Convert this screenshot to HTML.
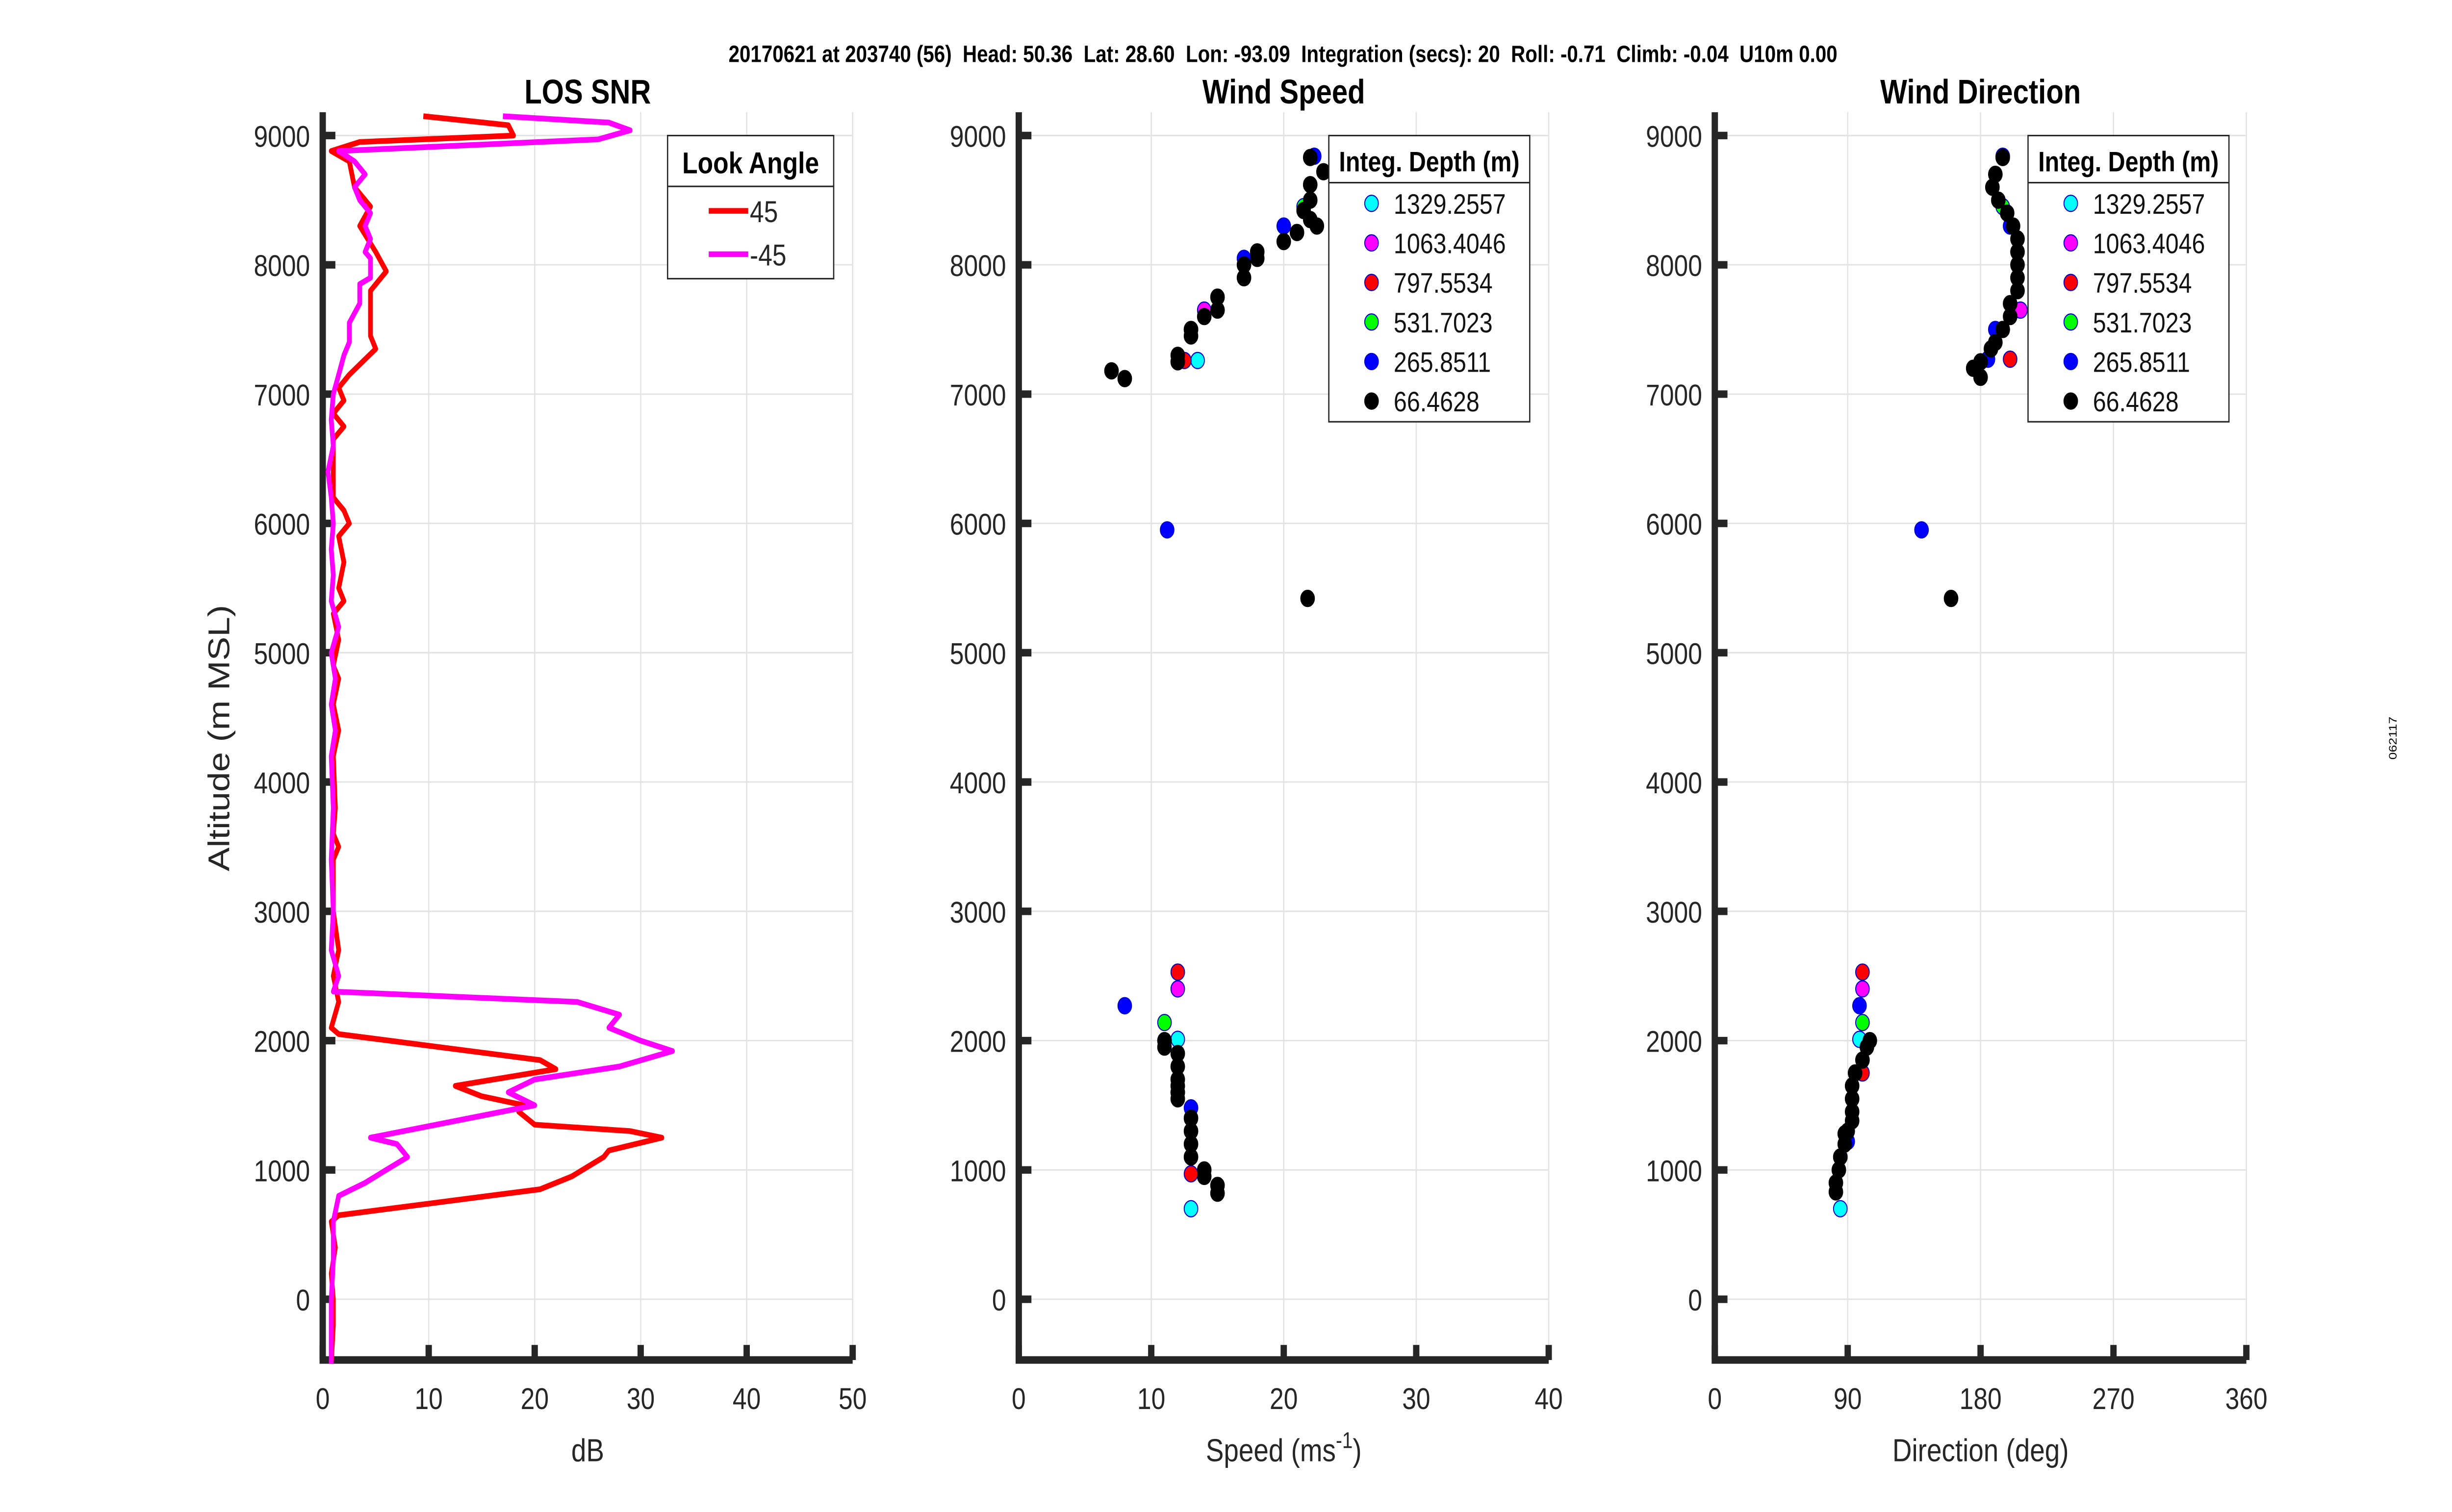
<!DOCTYPE html>
<html><head><meta charset="utf-8"><style>
html,body{margin:0;padding:0;background:#fff;width:100%;height:100%;overflow:hidden;}
svg{display:block;font-family:"Liberation Sans",sans-serif;width:100vw;height:100vh;}
</style></head><body>
<svg id="chart" viewBox="0 0 1550 803" preserveAspectRatio="none" xmlns="http://www.w3.org/2000/svg">
<g id="root">
<text x="811" y="33" text-anchor="middle" font-size="12.5" font-weight="bold" xml:space="preserve">20170621 at 203740 (56)  Head: 50.36  Lat: 28.60  Lon: -93.09  Integration (secs): 20  Roll: -0.71  Climb: -0.04  U10m 0.00</text>
<text transform="translate(1515,392) rotate(-90)" text-anchor="middle" font-size="7">062117</text>
<g id="g"></g>
</g>
</svg>
<script>
// LOS SNR data
const snrRedX=[9.5,17.5,18,3.5,0.8,2.5,3,4.5,3.5,5,6,4.5,4.5,4.5,5,2.5,1.5,2,1,2,1,1,1,2,2.5,1.5,2,1.5,2,1,1.5,1,1.5,1,1.5,1,1.2,1,1.5,1,1,1.5,1,1.5,0.8,1.5,20.5,22,12.5,15,19,18.5,20,29,32,27,26.5,23.5,20.5,1.5,0.8,1.2,0.8,1,1,0.8];
const snrRedY=[9150,9080,9000,8950,8880,8800,8600,8450,8300,8100,7950,7800,7600,7450,7350,7150,7050,6950,6850,6750,6650,6400,6200,6100,6000,5900,5700,5500,5400,5300,5100,4900,4800,4600,4400,4200,3800,3600,3500,3400,3000,2700,2500,2300,2100,2050,1850,1780,1650,1570,1500,1450,1350,1300,1250,1150,1100,950,850,650,600,400,200,0,-200,-500];
const snrMagX=[17,27,29,26,1.5,3,4,3,3.5,4.5,4,4.5,4,4.5,4.5,3.5,3.5,2.5,2.5,2,1.5,1,0.8,1,0.5,0.8,1,0.8,1,0.8,1.5,0.8,1.2,0.8,1.2,0.8,1,0.8,1,0.8,1.5,1,24,28,27,30,33,28,20,17.5,20,4.5,7,8,6,4,1.5,1,1,0.8,0.8];
const snrMagY=[9150,9100,9040,8970,8880,8800,8700,8600,8500,8400,8300,8200,8100,8050,7900,7850,7700,7550,7400,7300,7150,7000,6800,6600,6400,6200,6000,5800,5600,5400,5200,5000,4800,4600,4400,4200,3800,3400,3000,2700,2500,2380,2300,2200,2100,2000,1920,1800,1700,1600,1500,1250,1200,1100,1000,900,800,600,300,0,-500];
// Wind speed data (ms-1, m)
const depthLabels=["1329.2557","1063.4046","797.5534","531.7023","265.8511","66.4628"];
const depthColors=["#00ffff","#ff00ff","#ff0000","#00ff00","#0000ff","#000000"];
const spdCyanX=[13.5,12,13], spdCyanY=[7260,2010,700];
const spdMagX=[14,12], spdMagY=[7650,2400];
const spdRedX=[12.5,12,13], spdRedY=[7260,2530,970];
const spdGreenX=[21.5,11], spdGreenY=[8450,2140];
const spdBlueX=[22.3,20,17,13,12,11.2,8,11,13,12], spdBlueY=[8840,8300,8050,7500,7250,5950,2270,2000,1480,1600];
const spdBlackX=[22,23,22,22,21.5,22.5,22,21,20,17,17,18,18,15,15,14,13,13,12,12,7,8,21.8,11,11,12,12,12,12,12,13,13,13,13,14,14,15,15,12];
const spdBlackY=[8830,8720,8620,8500,8420,8300,8350,8250,8180,8000,7900,8100,8050,7750,7650,7600,7450,7500,7300,7250,7180,7120,5420,2000,1950,1900,1800,1700,1600,1550,1400,1300,1200,1100,1000,950,880,820,1650];
// Wind direction data (deg, m)
const dirCyanX=[195,98,85], dirCyanY=[7500,2010,700];
const dirMagX=[207,100], dirMagY=[7650,2400];
const dirRedX=[200,100,100], dirRedY=[7270,1750,2530];
const dirGreenX=[195,100,85], dirGreenY=[8450,2140,1100];
const dirBlueX=[195,200,140,185,190,98,90], dirBlueY=[8840,8300,5950,7270,7500,2270,1220];
const dirBlackX=[195,190,188,192,198,202,205,205,205,205,205,200,200,195,190,187,180,175,180,160,105,103,100,95,93,93,93,93,90,88,85,84,82,82,88];
const dirBlackY=[8830,8700,8600,8500,8400,8300,8200,8100,8000,7900,7800,7700,7600,7500,7400,7350,7250,7200,7130,5420,2000,1950,1850,1750,1650,1550,1450,1380,1300,1200,1100,1000,900,830,1280];
const yTicks=[0,1000,2000,3000,4000,5000,6000,7000,8000,9000];

const NS="http://www.w3.org/2000/svg";
const G=document.getElementById('g');
function mk(tag,attrs,parent,text){const e=document.createElementNS(NS,tag);for(const k in attrs)e.setAttribute(k,attrs[k]);if(text!==undefined)e.textContent=text;(parent||G).appendChild(e);return e;}
const Y0=690, YPX=68.67/1000, YMIN=-470, YMAX=9180;
function ymap(v){return Y0-v*YPX;}
const yTop=ymap(YMAX), yBot=ymap(YMIN);

function axes(name,x0,x1,xmin,xmax,xticks,xtickLabels,title,xlabel,showYLabel){
  const g=mk('g',{});
  
  
  const xm=v=>x0+(v-xmin)/(xmax-xmin)*(x1-x0);
  xticks.forEach(t=>{const l=mk('line',{x1:xm(t),x2:xm(t),y1:yTop,y2:yBot,stroke:'#e3e3e3','stroke-width':0.8},g);
    
    });
  yTicks.forEach(t=>{const l=mk('line',{x1:x0,x2:x1,y1:ymap(t),y2:ymap(t),stroke:'#e3e3e3','stroke-width':0.8},g);
    
    });
  const ax=mk('path',{d:`M${x0} ${yTop} V${yBot} H${x1}`,stroke:'#262626','stroke-width':4,fill:'none'},g);
  
  
  xticks.forEach((t,i)=>{
    mk('line',{x1:xm(t),x2:xm(t),y1:yBot,y2:yBot-8,stroke:'#262626','stroke-width':4},g);
    const tx=mk('text',{x:xm(t),y:yBot+26,'text-anchor':'middle','font-size':16,fill:'#262626'},g,xtickLabels[i]);
    
    
  });
  yTicks.forEach(t=>{
    mk('line',{x1:x0,x2:x0+8,y1:ymap(t),y2:ymap(t),stroke:'#262626','stroke-width':4},g);
    const tx=mk('text',{x:x0-8,y:ymap(t)+6,'text-anchor':'end','font-size':16,fill:'#262626'},g,String(t));
    
    
  });
  const tt=mk('text',{x:(x0+x1)/2,y:55,'text-anchor':'middle','font-size':18,'font-weight':'bold'},g,title);
  
  
  const xl=mk('text',{x:(x0+x1)/2,y:776,'text-anchor':'middle','font-size':17,fill:'#262626'},g,xlabel);
  
  
  if(showYLabel){const yl=mk('text',{transform:'translate(145,392) rotate(-90)','text-anchor':'middle','font-size':19,fill:'#262626'},g,'Altitude (m MSL)');
    
    }
  return {g,xm,xl};
}

// Panel 1
const p1=axes('snr',204,539,0,50,[0,10,20,30,40,50],['0','10','20','30','40','50'],'LOS SNR','dB',true);
function line(p,xs,ys,color,name){const d=xs.map((v,i)=>(i?'L':'M')+p.xm(v).toFixed(1)+' '+ymap(ys[i]).toFixed(1)).join(' ');
  const e=mk('path',{d,stroke:color,'stroke-width':3,fill:'none','stroke-linejoin':'round'},p.g);
  
  }
line(p1,snrRedX,snrRedY,'#ff0000','snr-line-45');
line(p1,snrMagX,snrMagY,'#ff00ff','snr-line-minus45');
(function(){const lg=mk('g',{},p1.g);
  
  
  mk('rect',{x:422,y:72,width:105,height:76,fill:'#fff',stroke:'#262626','stroke-width':0.8},lg);
  mk('line',{x1:422,x2:527,y1:99,y2:99,stroke:'#262626','stroke-width':0.8},lg);
  mk('text',{x:474.5,y:92,'text-anchor':'middle','font-size':16,'font-weight':'bold'},lg,'Look Angle');
  mk('line',{x1:448,x2:473,y1:112,y2:112,stroke:'#ff0000','stroke-width':3},lg);
  mk('text',{x:474,y:118,'font-size':16,fill:'#262626'},lg,'45');
  mk('line',{x1:448,x2:473,y1:135,y2:135,stroke:'#ff00ff','stroke-width':3},lg);
  mk('text',{x:474,y:141,'font-size':16,fill:'#262626'},lg,'-45');})();

function scatter(p,xs,ys,color,name){xs.forEach((v,i)=>{const c=mk('circle',{cx:p.xm(v),cy:ymap(ys[i]),r:4.3,fill:color,stroke:color==='#000000'?'#000':'#0000cc','stroke-width':0.6},p.g);
  
  });}
function depthLegend(p,x,name){const lg=mk('g',{},p.g);
  
  
  mk('rect',{x:x,y:72,width:127,height:152,fill:'#fff',stroke:'#262626','stroke-width':0.8},lg);
  mk('line',{x1:x,x2:x+127,y1:97,y2:97,stroke:'#262626','stroke-width':0.8},lg);
  mk('text',{x:x+63.5,y:91,'text-anchor':'middle','font-size':15,'font-weight':'bold'},lg,'Integ. Depth (m)');
  depthLabels.forEach((lab,i)=>{const yy=108+i*21;
    mk('circle',{cx:x+27,cy:yy,r:4.3,fill:depthColors[i],stroke:i===5?'#000':'#0000cc','stroke-width':0.6},lg);
    mk('text',{x:x+41,y:yy+5.5,'font-size':15,fill:'#111'},lg,lab);});}

// Panel 2
const p2=axes('speed',644,979,0,40,[0,10,20,30,40],['0','10','20','30','40'],'Wind Speed','',false);
p2.xl.textContent='Speed (ms';
mk('tspan',{dy:-7,'font-size':12},p2.xl,'-1');
mk('tspan',{dy:7},p2.xl,')');
scatter(p2,spdCyanX,spdCyanY,'#00ffff','speed-point-1329');
scatter(p2,spdMagX,spdMagY,'#ff00ff','speed-point-1063');
scatter(p2,spdRedX,spdRedY,'#ff0000','speed-point-797');
scatter(p2,spdGreenX,spdGreenY,'#00ff00','speed-point-531');
scatter(p2,spdBlueX,spdBlueY,'#0000ff','speed-point-265');
scatter(p2,spdBlackX,spdBlackY,'#000000','speed-point-66');
depthLegend(p2,840,'speed-legend');

// Panel 3
const p3=axes('direction',1084,1420,0,360,[0,90,180,270,360],['0','90','180','270','360'],'Wind Direction','Direction (deg)',false);
scatter(p3,dirCyanX,dirCyanY,'#00ffff','direction-point-1329');
scatter(p3,dirMagX,dirMagY,'#ff00ff','direction-point-1063');
scatter(p3,dirRedX,dirRedY,'#ff0000','direction-point-797');
scatter(p3,dirGreenX,dirGreenY,'#00ff00','direction-point-531');
scatter(p3,dirBlueX,dirBlueY,'#0000ff','direction-point-265');
scatter(p3,dirBlackX,dirBlackY,'#000000','direction-point-66');
depthLegend(p3,1282,'direction-legend');
</script>
</body></html>
